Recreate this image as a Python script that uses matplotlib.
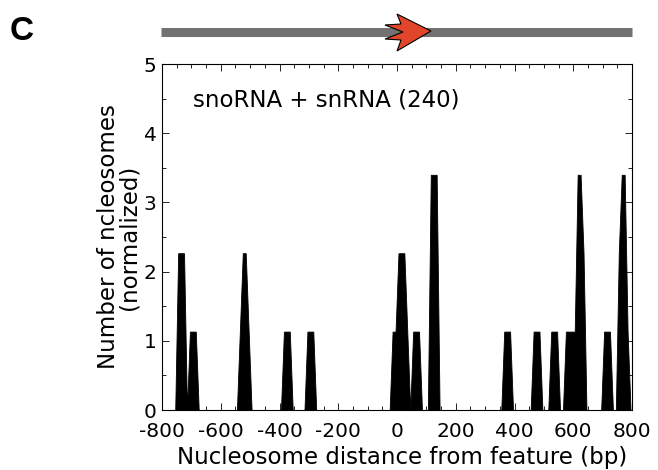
import numpy as np
import matplotlib
matplotlib.use("Agg")
import matplotlib.pyplot as plt
from matplotlib.patches import Polygon

# smoothed nucleosome counts on a 10 bp grid (only non-zero points listed)
positions = [-745, -735, -725, -705, -695, -685,
             -535, -525, -515, -505,
             -385, -375, -365, -305, -295, -285,
             -15, -5, 5, 15, 25, 35, 55, 65, 75, 115, 125, 135,
             365, 375, 385, 465, 475, 485, 525, 535, 545,
             575, 585, 595, 605, 615, 625, 635,
             705, 715, 725, 755, 765, 775, 785]
levels = [2, 2, 2, 1, 1, 1,
          1, 2, 2, 1,
          1, 1, 1, 1, 1, 1,
          1, 1, 2, 2, 2, 1, 1, 1, 1, 3, 3, 3,
          1, 1, 1, 1, 1, 1, 1, 1, 1,
          1, 1, 1, 1, 3, 3, 2,
          1, 1, 1, 2, 3, 3, 1]
unit = 1.133          # normalized height of one nucleosome
label = "snoRNA + snRNA (240)"

grid = np.arange(-795, 800, 10)
y = np.zeros(len(grid))
for p, l in zip(positions, levels):
    y[np.searchsorted(grid, p)] = l * unit

plt.rcParams["axes.unicode_minus"] = False

W, H = 658, 470
fig = plt.figure(figsize=(W / 100, H / 100), dpi=100)
ax = fig.add_axes([162 / W, 1 - 410 / H, 470 / W, 346 / H])

ax.fill_between(grid, 0, y, color="black", lw=0.6, edgecolor="black")
ax.set_xlim(-800, 800)
ax.set_ylim(0, 5)
ax.set_xticks(np.arange(-800, 801, 200))
ax.set_xticks(np.arange(-800, 801, 50), minor=True)
ax.set_yticks(np.arange(0, 6, 1))
ax.set_yticks(np.arange(0, 5.1, 0.5), minor=True)
ax.tick_params(which="both", direction="in", top=True, right=True,
               labelsize=14.5, width=0.6)
ax.tick_params(axis="x", which="major", pad=8.5)
ax.tick_params(axis="y", which="major", pad=4)
ax.tick_params(which="major", length=5)
ax.tick_params(which="minor", length=3)
for s in ax.spines.values():
    s.set_linewidth(0.8)
ax.set_xlabel("Nucleosome distance from feature (bp)", fontsize=16.5)
ax.xaxis.set_label_coords(0.51, -0.105)
ax.set_ylabel("Number of ncleosomes\n(normalized)", fontsize=16.5,
              linespacing=0.9)
ax.yaxis.set_label_coords(-0.045, 0.5)
ax.text(0.066, 0.896, label, transform=ax.transAxes, fontsize=16.5,
        va="center", ha="left")

# overlay in pixel coordinates for the feature cartoon and panel letter
ov = fig.add_axes([0, 0, 1, 1], zorder=5)
ov.set_xlim(0, W)
ov.set_ylim(H, 0)
ov.axis("off")
ov.plot([161, 632], [32, 32], color="#727272", lw=6.5, solid_capstyle="butt")
arrow = [(431, 31), (397, 14), (401, 24), (385, 25), (403, 32),
         (385, 39), (401, 40), (397, 51)]
ov.add_patch(Polygon(arrow, closed=True, facecolor="#e2462a",
                     edgecolor="black", lw=0.8, zorder=6))
ov.text(10, 31, "C", fontsize=24, fontweight="bold",
        family=["Liberation Sans", "DejaVu Sans"], va="center", ha="left")

fig.savefig("out.png", dpi=100)
